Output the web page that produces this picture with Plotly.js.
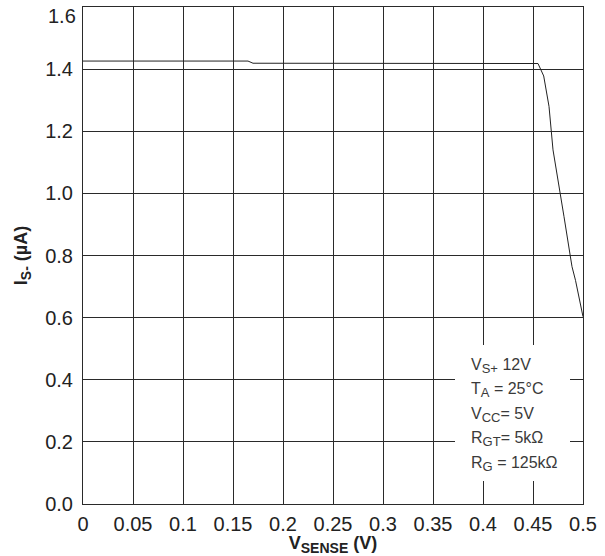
<!DOCTYPE html>
<html>
<head>
<meta charset="utf-8">
<script src="https://cdn.plot.ly/plotly-3.0.1.min.js"></script>
<style>html,body{margin:0;padding:0;background:#fff;}#chart{width:605px;height:556px;}</style>
</head>
<body>
<div id="chart"></div>
<script>
// Data
const vSense = [0, 0.10, 0.165, 0.170, 0.30, 0.40, 0.455, 0.4607, 0.466, 0.470, 0.478, 0.481, 0.489, 0.4925, 0.500];
const iSminus = [1.426, 1.426, 1.426, 1.419, 1.418, 1.418, 1.418, 1.378, 1.28, 1.14, 0.99, 0.925, 0.764, 0.72, 0.603];
const conditionLines = [
  "V<sub><span style=\"font-size:13px\">S+</span></sub> 12V",
  "T<sub><span style=\"font-size:13px\">A</span></sub> = 25°C",
  "V<sub><span style=\"font-size:13px\">CC</span></sub>= 5V",
  "R<sub><span style=\"font-size:13px\">GT</span></sub>= 5kΩ",
  "R<sub><span style=\"font-size:13px\">G</span></sub> = 125kΩ"
];
const xTickVals = [0, 0.05, 0.1, 0.15, 0.2, 0.25, 0.3, 0.35, 0.4, 0.45, 0.5];
const xTickText = ["0", "0.05", "0.1", "0.15", "0.2", "0.25", "0.3", "0.35", "0.4", "0.45", "0.5"];
const yTickVals = [0, 0.2, 0.4, 0.6, 0.8, 1.0, 1.2, 1.4, 1.6];
const yTickText = ["0.0", "0.2", "0.4", "0.6", "0.8", "1.0", "1.2", "1.4", "1.6"];

const font = "Liberation Sans, Arial, sans-serif";
const gridC = "#2a2a2a";

const annotations = conditionLines.map((t, i) => ({
  xref: "x", yref: "y",
  x: 0.386, y: 0.445 - i * 0.079,
  xanchor: "left", yanchor: "middle",
  text: t, showarrow: false,
  font: {family: font, size: 16, color: "#3a3a3a"}
}));
// top tick label (Plotly hides it at the paper edge): drawn shifted down like the reference
const lastY = yTickVals.length - 1;
annotations.push({
  xref: "paper", yref: "y",
  x: 0, y: yTickVals[lastY], xanchor: "right", yanchor: "top",
  xshift: -5, yshift: 4,
  text: yTickText[lastY], showarrow: false,
  font: {family: font, size: 20, color: "#222"}
});

const layout = {
  width: 605, height: 556,
  margin: {l: 83, r: 22, t: 7, b: 52},
  paper_bgcolor: "#fff", plot_bgcolor: "#fff",
  showlegend: false,
  xaxis: {
    range: [0, 0.5], tickvals: xTickVals, ticktext: xTickText,
    showgrid: true, gridcolor: gridC, gridwidth: 1,
    zeroline: false, showline: true, linecolor: gridC, linewidth: 1, mirror: true,
    ticks: "", ticklabelstandoff: 2,
    tickfont: {family: font, size: 20, color: "#222"},
    title: {text: "<b>V<sub><span style=\"font-size:14px\">SENSE</span></sub> (V)</b>", font: {family: font, size: 18, color: "#222"}, standoff: 0}
  },
  yaxis: {
    range: [0, 1.6], tickvals: yTickVals, ticktext: yTickText,
    showgrid: true, gridcolor: gridC, gridwidth: 1,
    zeroline: false, showline: true, linecolor: gridC, linewidth: 1, mirror: true,
    ticks: "", ticklabelstandoff: 5,
    tickfont: {family: font, size: 20, color: "#222"},
    title: {text: "<b>I<sub><span style=\"font-size:14px\">S-</span></sub> (µA)</b>", font: {family: font, size: 18, color: "#222"}, standoff: 12}
  },
  shapes: [{
    type: "rect", xref: "x", yref: "y",
    x0: 0.372, x1: 0.487, y0: 0.074, y1: 0.512,
    fillcolor: "#fff", line: {width: 0}, layer: "above"
  }],
  annotations: annotations
};

Plotly.newPlot("chart", [{
  x: vSense, y: iSminus, type: "scatter", mode: "lines",
  line: {color: "#222", width: 1}, hoverinfo: "skip"
}], layout, {displayModeBar: false, staticPlot: true});
</script>
</body>
</html>
